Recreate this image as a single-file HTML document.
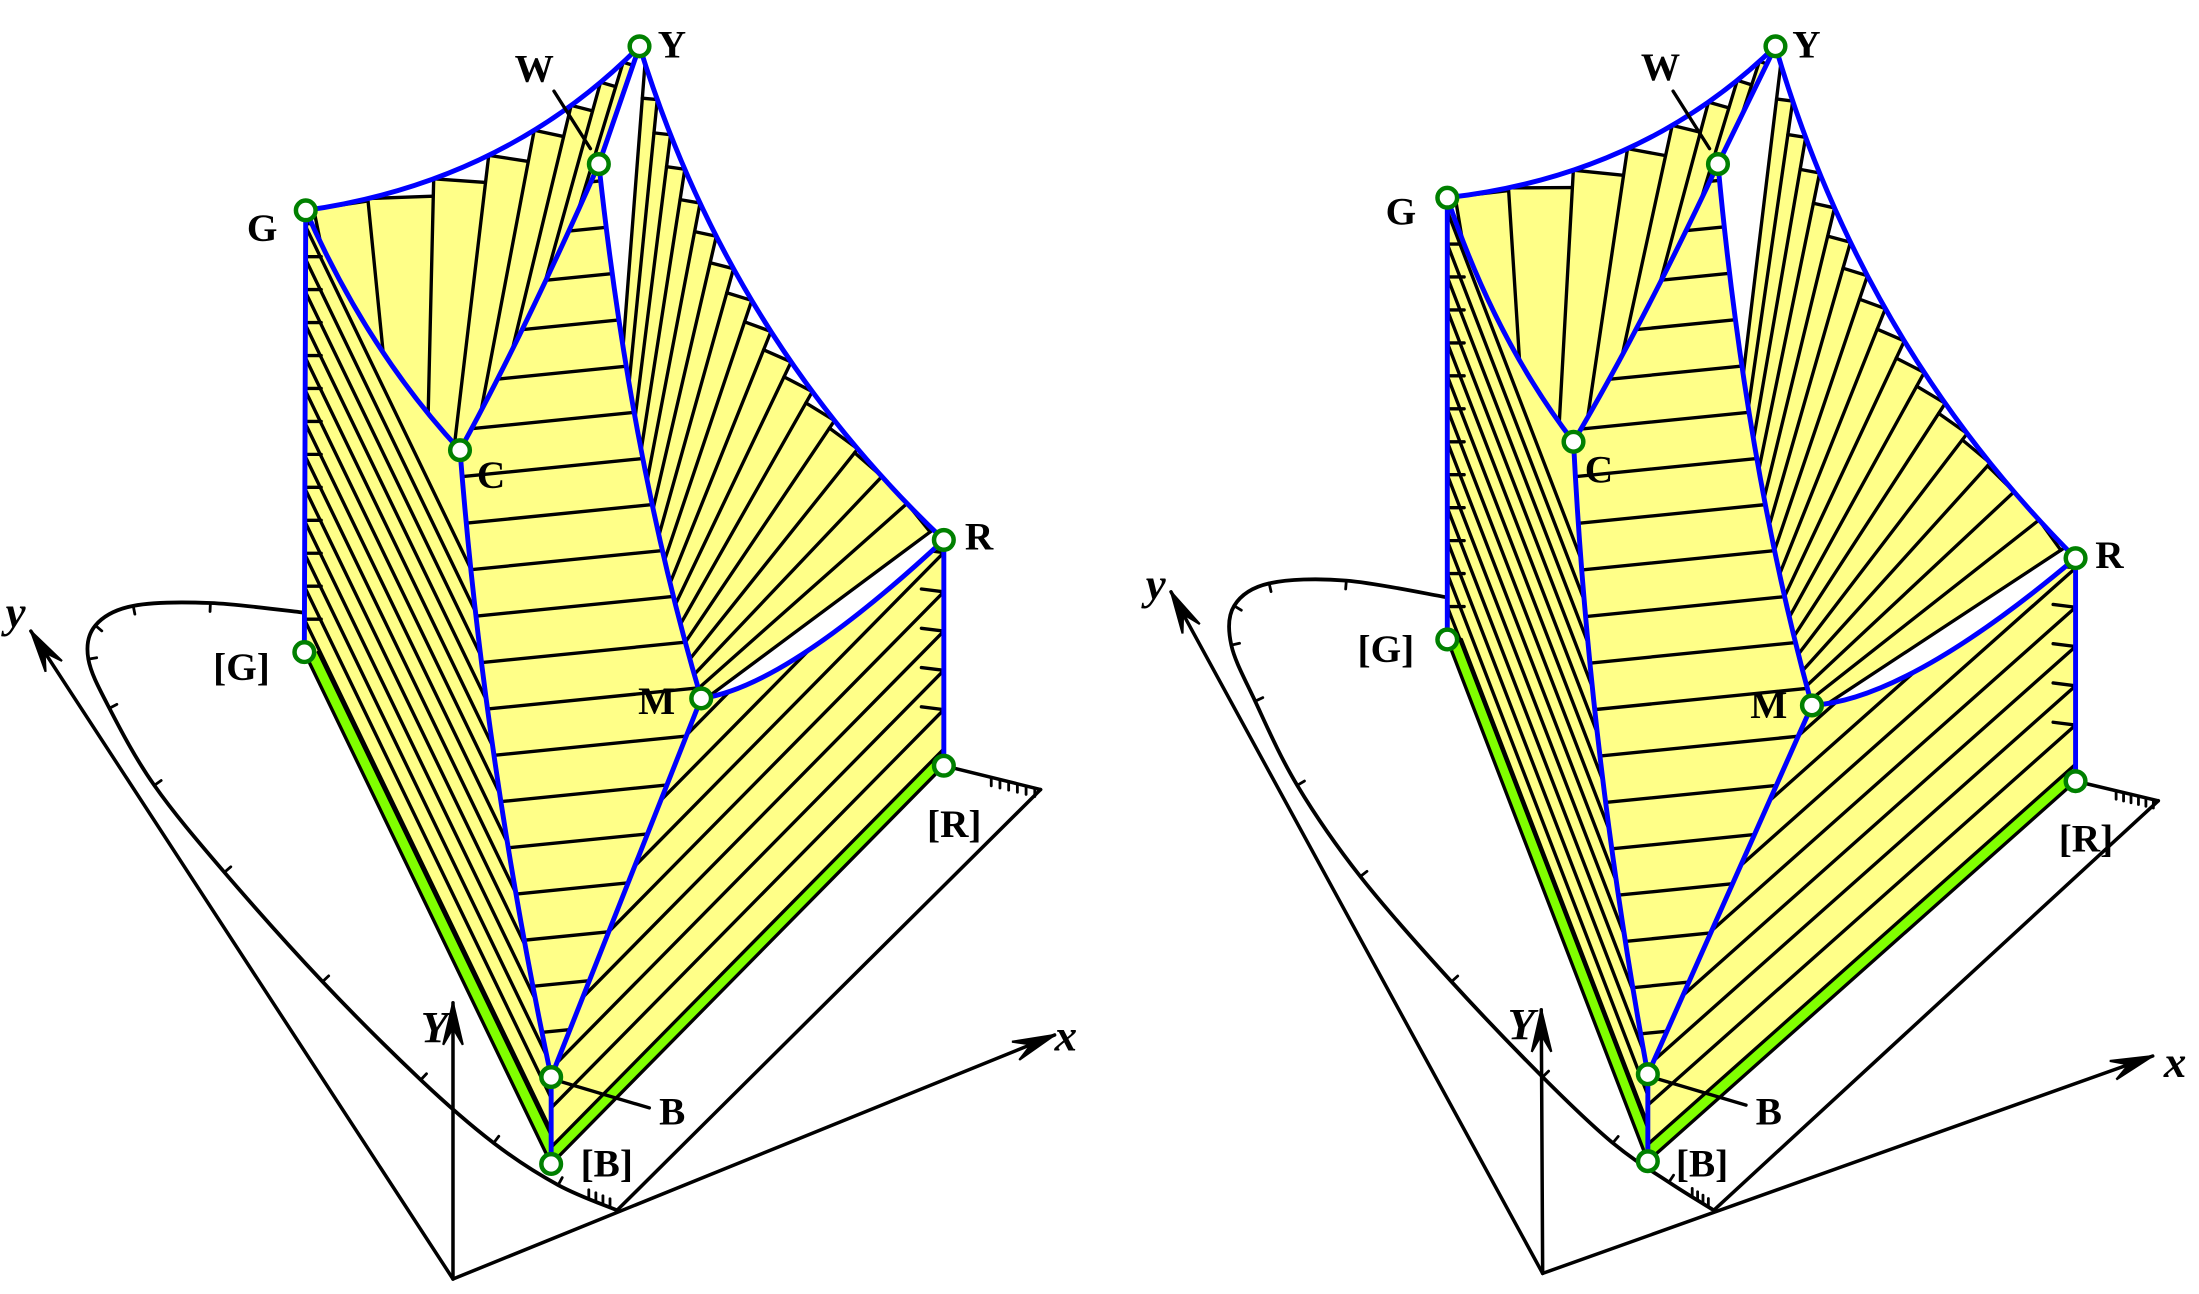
<!DOCTYPE html>
<html><head><meta charset="utf-8"><style>
html,body{margin:0;padding:0;background:#fff;width:2199px;height:1294px;overflow:hidden}
svg{display:block;position:absolute;left:0;top:0}
text{font-family:"Liberation Serif",serif;font-weight:bold;font-size:28px;fill:#000}
text.ax{font-style:italic;font-size:32px}
</style></head><body>
<svg id="s" xmlns="http://www.w3.org/2000/svg" width="2199" height="1294" viewBox="0 0 1568 922.7">
<rect width="1568" height="923" fill="#fff"/>
<g id="root"></g>
<text x="176" y="172">G</text><text x="469" y="41">Y</text><text x="367" y="58">W</text>
<text x="340" y="348">C</text><text x="688" y="392">R</text><text x="455" y="509">M</text>
<text x="152" y="485">[G]</text><text x="661" y="597">[R]</text><text x="470" y="802">B</text>
<text x="414" y="839">[B]</text>
<text class="ax" x="4" y="447">y</text><text class="ax" x="300" y="743">Y</text><text class="ax" x="752" y="749">x</text>
<text x="988" y="160">G</text><text x="1278" y="41">Y</text><text x="1170" y="57">W</text>
<text x="1130" y="344">C</text><text x="1494" y="405">R</text><text x="1248" y="512">M</text>
<text x="968" y="472">[G]</text><text x="1468" y="607">[R]</text><text x="1252" y="802">B</text>
<text x="1195" y="839">[B]</text>
<text class="ax" x="817" y="427">y</text><text class="ax" x="1075" y="741">Y</text><text class="ax" x="1543" y="768">x</text>
</svg>
<script>
const NS='http://www.w3.org/2000/svg';
const root=document.getElementById('root');
let cid=0;const LW=2.4;
function el(t,a,p){const e=document.createElementNS(NS,t);for(const k in a)e.setAttribute(k,a[k]);(p||root).appendChild(e);return e;}
const Y_='#ffff88',BL='#0000ff',GR='#80ff00';
function qp(a,c,b,t){const u=1-t;return [u*u*a[0]+2*u*t*c[0]+t*t*b[0],u*u*a[1]+2*u*t*c[1]+t*t*b[1]];}
function P(p){return p[0].toFixed(1)+' '+p[1].toFixed(1);}
function sub(a,b){return [a[0]-b[0],a[1]-b[1]];}
function add(a,b){return [a[0]+b[0],a[1]+b[1]];}
function mul(a,s){return [a[0]*s,a[1]*s];}
function len(a){return Math.hypot(a[0],a[1]);}
function unit(a){const l=len(a);return [a[0]/l,a[1]/l];}
function clip(d){const id='c'+(cid++);const cp=el('clipPath',{id:id});el('path',{d:d},cp);return id;}
function line(a,b,p,w,c){return el('line',{x1:a[0],y1:a[1],x2:b[0],y2:b[1],stroke:c||'#000','stroke-width':w||LW,'stroke-linecap':'round'},p);}
function catmull(pts){let d='M'+P(pts[0]);for(let i=0;i<pts.length-1;i++){const p0=pts[Math.max(0,i-1)],p1=pts[i],p2=pts[i+1],p3=pts[Math.min(pts.length-1,i+2)];
const c1=[p1[0]+(p2[0]-p0[0])/6,p1[1]+(p2[1]-p0[1])/6],c2=[p2[0]-(p3[0]-p1[0])/6,p2[1]-(p3[1]-p1[1])/6];d+=' C'+P(c1)+' '+P(c2)+' '+P(p2);}return d;}
function arrow(T,from){const u=unit(sub(T,from)),n=[-u[1],u[0]];
el('path',{d:'M'+P(T)+' L'+P(add(sub(T,mul(u,30)),mul(n,7)))+' L'+P(sub(T,mul(u,18)))+' L'+P(sub(add(T,mul(u,-30)),mul(n,7)))+'Z',fill:'#000',stroke:'#000','stroke-width':1.5});}
function fan(clipD,O,arcA,arcC,arcB,ts){
 const g=el('g',{'clip-path':'url(#'+clip(clipD)+')'});
 const A=ts.map(t=>qp(arcA,arcC,arcB,t));
 for(let i=0;i<A.length-1;i++){const r1=len(sub(A[i],O)),r2=len(sub(A[i+1],O));
  let p,o;if(r1<r2){p=A[i];o=A[i+1];}else{p=A[i+1];o=A[i];}
  const q=add(O,mul(unit(sub(o,O)),Math.min(r1,r2)));
  el('path',{d:'M'+P(O)+' L'+P(p)+' L'+P(q)+'Z',fill:Y_},g);line(p,q,g);}
 A.forEach(a=>line(O,a,g));}
function panel(K){
 const {G,Y,W,C,R,M,Gb,Rb,B,Bb,cGY,cYR,cGC,cCW,cCB,cWM,cMR,fL,fR,O,xt,yt,Yt,curve,Q}=K;
 line(O,yt,root,2.5);line(O,xt,root,2.5);line(O,Yt,root,2.5);arrow(yt,O);arrow(xt,O);arrow(Yt,O);
 const Pp=curve[curve.length-1];line(Pp,Q,root,2.5);line(Rb,Q,root,2.5);
 el('path',{d:catmull(curve),fill:'none',stroke:'#000','stroke-width':2.7},root);
 for(let i=1;i<curve.length-1;i++){const a=curve[i-1],b=curve[i+1],m=curve[i];const u=unit(sub(b,a)),n=[u[1],-u[0]];line(m,add(m,mul(n,6)),root,2);}
 for(let k=1;k<7;k++){const m=add(Rb,mul(sub(Q,Rb),0.4+k*0.09));line(m,add(m,[0,6]),root,2);}
 for(let k=0;k<4;k++){const m=add(Pp,mul(sub(curve[curve.length-2],Pp),0.12+k*0.12));line(m,add(m,[0,-6]),root,2);}
 fan(`M${P(G)} Q${P(cGY)} ${P(Y)} L${P(W)} Q${P(cCW)} ${P(C)} Q${P(cGC)} ${P(G)}Z`,fL,G,cGY,Y,[0.02,0.16,0.34,0.5,0.64,0.76,0.86,0.94,1]);
 const rts=[];for(let i=0;i<=15;i++)rts.push(0.03+i*0.063);
 fan(`M${P(Y)} Q${P(cYR)} ${P(R)} Q${P(cMR)} ${P(M)} Q${P(cWM)} ${P(W)}Z`,fR,Y,cYR,R,rts);
 const cd=`M${P(C)} Q${P(cCB)} ${P(B)} L${P(M)} Q${P(cWM)} ${P(W)} Q${P(cCW)} ${P(C)}Z`;
 el('path',{d:cd,fill:Y_});let g=el('g',{'clip-path':'url(#'+clip(cd)+')'});
 for(let y=W[1]+22;y<B[1]+40;y+=33.5){line([C[0]-80,y+8],[C[0]+280,y-28],g);}
 const ld=`M${P(G)} L${P(Gb)} L${P(Bb)} L${P(B)} Q${P(cCB)} ${P(C)} Q${P(cGC)} ${P(G)}Z`;
 el('path',{d:ld,fill:Y_});g=el('g',{'clip-path':'url(#'+clip(ld)+')'});
 let d=unit(sub(Bb,Gb));
 el('path',{d:`M${P(Gb)} L${P(Bb)} L${P(add(Bb,[10,0]))} L${P(add(Gb,[10,0]))}Z`,fill:GR},g);
 line(add(Gb,[10,0]),add(Bb,[10,0]),g);
 for(let k=1;k<14;k++){const S=add(Gb,[0,-23.5*k]);line(sub(S,mul(d,40)),add(S,mul(d,600)),g);line(S,add(S,[12,0]),g);}
 const rd=`M${P(M)} Q${P(cMR)} ${P(R)} L${P(Rb)} L${P(Bb)} L${P(B)}Z`;
 el('path',{d:rd,fill:Y_});g=el('g',{'clip-path':'url(#'+clip(rd)+')'});
 d=unit(sub(Bb,Rb));
 el('path',{d:`M${P(Bb)} L${P(Rb)} L${P(add(Rb,[0,-12]))} L${P(add(Bb,[0,-12]))}Z`,fill:GR},g);
 line(add(Rb,[0,-12]),add(Bb,[0,-12]),g);
 for(let k=1;k<20;k++){const S=add(Rb,[0,-12-28*k]);line(sub(S,mul(d,40)),add(S,mul(d,800)),g);line(S,add(S,[-16,-2]),g);}
 line(Bb,Rb,root);line(Gb,Bb,root);
 const bp=(dd)=>el('path',{d:dd,fill:'none',stroke:BL,'stroke-width':3.5,'stroke-linejoin':'round'});
 bp(`M${P(G)} Q${P(cGY)} ${P(Y)} Q${P(cYR)} ${P(R)}`);
 bp(`M${P(G)} Q${P(cGC)} ${P(C)} Q${P(cCW)} ${P(W)} L${P(Y)} L${P(W)} Q${P(cWM)} ${P(M)} Q${P(cMR)} ${P(R)}`);
 bp(`M${P(C)} Q${P(cCB)} ${P(B)} L${P(M)}`);
 bp(`M${P(G)} L${P(Gb)} M${P(R)} L${P(Rb)} M${P(B)} L${P(Bb)}`);
 line([W[0]-6,W[1]-11],[W[0]-32,W[1]-52],root);
 line([B[0]+6,B[1]+3],[B[0]+70,B[1]+22],root);
 [G,Y,W,C,R,M,Gb,Rb,B,Bb].forEach(p=>el('circle',{cx:p[0],cy:p[1],r:7,fill:'#fff',stroke:'#008000','stroke-width':3.2}));
}
panel({G:[218,150],Y:[456,33],W:[427,117],C:[328,321],R:[673,385],M:[500,498],Gb:[217,465],Rb:[673,546],B:[393,768],Bb:[393,830],
 cGY:[360,130],cYR:[520,240],cGC:[262,250],cCW:[375,235],cCB:[345,540],cWM:[450,330],cMR:[560,490],fL:[300,520],fR:[420,560],
 O:[323,912],xt:[752,738],yt:[22,450],Yt:[323,715],Q:[742,563],
 curve:[[218,437],[150,430],[95,432],[68,446],[63,470],[78,505],[110,560],[160,622],[230,700],[300,770],[352,815],[398,845],[440,863]]});
panel({G:[1032,141],Y:[1266,33],W:[1225,117],C:[1122,315],R:[1480,398],M:[1292,503],Gb:[1032,456],Rb:[1480,557],B:[1175,766],Bb:[1175,828],
 cGY:[1172,125],cYR:[1328,246],cGC:[1066,242],cCW:[1171,232],cCB:[1133,536],cWM:[1245,333],cMR:[1360,499],fL:[1100,514],fR:[1207,565],
 O:[1100,908],xt:[1535,753],yt:[835,422],Yt:[1099,720],Q:[1539,571],
 curve:[[1032,426],[960,414],[905,416],[880,432],[878,460],[895,500],[925,560],[970,625],[1035,700],[1100,768],[1150,815],[1190,843],[1222,863]]});
</script>
</body></html>
